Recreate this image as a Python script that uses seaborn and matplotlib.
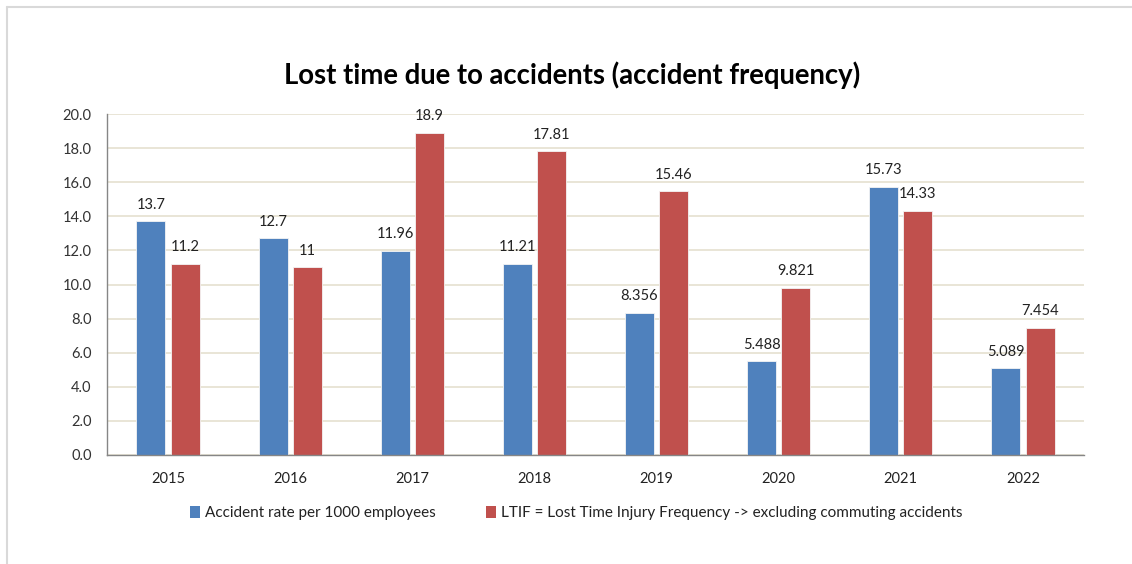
import matplotlib
matplotlib.use("Agg")
import matplotlib.pyplot as plt
import seaborn as sns
import pandas as pd
from matplotlib.lines import Line2D
from matplotlib.patches import Patch

years = ["2015", "2016", "2017", "2018", "2019", "2020", "2021", "2022"]
accident_rate = [13.7, 12.7, 11.96, 11.21, 8.356, 5.488, 15.73, 5.089]
ltif = [11.2, 11, 18.9, 17.81, 15.46, 9.821, 14.33, 7.454]
series_names = ["Accident rate per 1000 employees",
                "LTIF = Lost Time Injury Frequency -> excluding commuting accidents"]
label_acc = ["13.7", "12.7", "11.96", "11.21", "8.356", "5.488", "15.73", "5.089"]
label_ltif = ["11.2", "11", "18.9", "17.81", "15.46", "9.821", "14.33", "7.454"]
yticks = [0, 2, 4, 6, 8, 10, 12, 14, 16, 18, 20]

colors = ["#4F81BD", "#C0504D"]

df = pd.DataFrame({
    "year": years * 2,
    "value": accident_rate + ltif,
    "series": [series_names[0]] * len(years) + [series_names[1]] * len(years),
})

sns.set_style("white")
plt.rcParams["font.family"] = ["Lato", "DejaVu Sans"]

fig = plt.figure(figsize=(11.32, 5.64), dpi=100)
ax = fig.add_axes([107 / 1132, 1 - 455 / 564, (1084 - 107) / 1132, (455 - 114) / 564])

sns.barplot(data=df, x="year", y="value", hue="series", palette=colors,
            saturation=1, width=0.56, gap=0.15, ax=ax, legend=False,
            edgecolor="#F4F4F4", linewidth=0.6)

ax.set_ylim(0, 20)
ax.set_xlim(-0.5, len(years) - 0.5)
ax.set_yticks(yticks)
ax.set_yticklabels([f"{v:.1f}" for v in yticks], fontsize=10.5, color="#333333")
ax.yaxis.grid(True, color="#E5E0CF", linewidth=1.2)
ax.set_axisbelow(True)
ax.set_xlabel("")
ax.set_ylabel("")

# x ticks at category boundaries
ax.set_xticks([i for i in range(len(years))])
ax.set_xticklabels(years, fontsize=10.5, color="#222222")
ax.tick_params(axis="x", length=0, pad=12)
ax.set_xticks([i - 0.5 for i in range(len(years) + 1)], minor=True)
ax.tick_params(axis="x", which="minor", length=5, color="#868686", width=1)
ax.tick_params(axis="y", length=5, color="#868686", width=1, pad=6)

for s in ["top", "right"]:
    ax.spines[s].set_visible(False)
for s in ["left", "bottom"]:
    ax.spines[s].set_color("#868686")
    ax.spines[s].set_linewidth(1)

# data labels
containers = ax.containers
for cont, labels in zip(containers, [label_acc, label_ltif]):
    for bar, lab in zip(cont, labels):
        ax.annotate(lab, (bar.get_x() + bar.get_width() / 2, bar.get_height()),
                    xytext=(0, 7), textcoords="offset points",
                    ha="center", va="bottom", fontsize=10.5, color="#222222")

fig.text(0.505, 1 - 75 / 564, "Lost time due to accidents (accident frequency)",
         ha="center", va="center", fontsize=19.8, fontweight="bold", color="#000000")

handles = [Patch(facecolor=colors[0], edgecolor="none"),
           Patch(facecolor=colors[1], edgecolor="none")]
fig.legend(handles, series_names, loc="center", bbox_to_anchor=(0.509, 1 - 513 / 564),
           ncol=2, frameon=False, fontsize=11, handlelength=0.65, handleheight=0.85,
           handletextpad=0.3, columnspacing=3.3, labelcolor="#222222")

# chart border (Excel style)
fig.add_artist(Line2D([7 / 1132, 1.0], [1 - 7 / 564, 1 - 7 / 564],
                      transform=fig.transFigure, color="#D9D9D9", linewidth=1.5))
fig.add_artist(Line2D([7 / 1132, 7 / 1132], [0.0, 1 - 7 / 564],
                      transform=fig.transFigure, color="#D9D9D9", linewidth=1.5))

fig.savefig("out.png", dpi=100, facecolor="white")
